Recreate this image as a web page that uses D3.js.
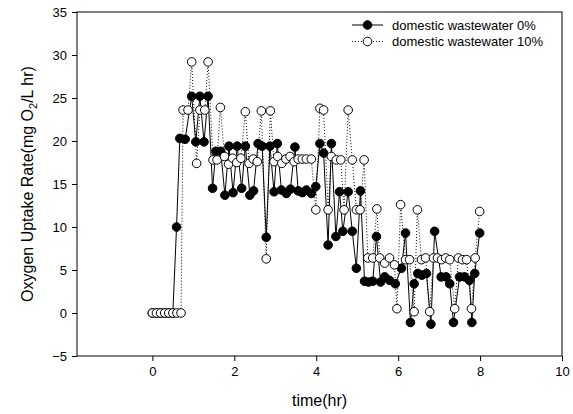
<!DOCTYPE html>
<meta charset="utf-8">
<style>
body { margin: 0; background: #fff; }
svg { display: block; font-family: Arial, "Liberation Sans", sans-serif; }
.axis path, .axis line { stroke: #000; stroke-width: 1; }
.axis text { font-size: 13px; fill: #000; }
.title { font-size: 16px; fill: #000; }
.legend text { font-size: 13px; fill: #000; }
</style>
<body>
<div id="chart"></div>
<script src="https://cdnjs.cloudflare.com/ajax/libs/d3/7.8.5/d3.min.js"></script>
<script>

var width = 573,
    height = 414,
    margin = {top: 12, right: 11, bottom: 58, left: 77};

// time (hr) and oxygen uptake rate
var time0 = [0, 0.1, 0.2, 0.3, 0.4, 0.5, 0.59, 0.67, 0.8, 0.96, 1.06, 1.16, 1.26, 1.36, 1.47, 1.55, 1.67, 1.77, 1.87, 1.97,
             2.07, 2.18, 2.27, 2.38, 2.47, 2.58, 2.68, 2.78, 2.87, 2.97, 3.05, 3.15, 3.27, 3.37, 3.48, 3.56, 3.66, 3.76, 3.88, 3.99,
             4.09, 4.18, 4.29, 4.37, 4.48, 4.57, 4.65, 4.78, 4.88, 4.98, 5.08, 5.18, 5.28, 5.38, 5.47, 5.57, 5.67, 5.79, 5.93,
             6.08, 6.18, 6.3, 6.39, 6.48, 6.58, 6.69, 6.8, 6.89, 7.05, 7.17, 7.26, 7.35, 7.5, 7.62, 7.74, 7.8, 7.87, 7.99];
var rate0 = [0, 0, 0, 0, 0, 0, 10, 20.3, 20.2, 25.2, 19.9, 25.2, 19.9, 25.2, 14.5, 18.8, 18.8, 13.7, 19.4, 14.0,
             19.4, 14.5, 19.4, 13.7, 14.2, 19.7, 19.4, 8.8, 19.4, 14.1, 19.7, 14.3, 13.9, 14.4, 19.3, 14.2, 14.0, 14.3, 13.9, 14.7,
             19.7, 18.6, 7.9, 19.7, 8.9, 14.1, 9.5, 14.1, 9.5, 5.2, 14.2, 3.7, 3.6, 3.7, 8.9, 3.6, 4.2, 3.8, 3.4,
             5.2, 9.3, -1.1, 3.4, 4.6, 4.4, 4.6, -1.3, 9.5, 4.2, 4.2, 3.4, -1.1, 4.2, 4.2, 3.8, -1.1, 4.6, 9.3];

var time10 = [0, 0.1, 0.2, 0.3, 0.4, 0.5, 0.6, 0.7, 0.75, 0.87, 0.96, 1.08, 1.16, 1.28, 1.36, 1.48, 1.58, 1.66, 1.76, 1.86,
              1.96, 2.06, 2.16, 2.27, 2.36, 2.46, 2.56, 2.66, 2.78, 2.88, 2.97, 3.06, 3.16, 3.26, 3.36, 3.46, 3.56, 3.66, 3.76, 3.88,
              3.99, 4.09, 4.18, 4.29, 4.37, 4.49, 4.6, 4.68, 4.78, 4.88, 4.98, 5.07, 5.17, 5.26, 5.38, 5.48, 5.55, 5.67, 5.79, 5.91,
              5.97, 6.06, 6.18, 6.28, 6.39, 6.47, 6.57, 6.67, 6.77, 6.86, 6.96, 7.06, 7.16, 7.26, 7.38, 7.47, 7.57, 7.67, 7.79, 7.88, 7.99];
var rate10 = [0, 0, 0, 0, 0, 0, 0, 0, 23.6, 23.6, 29.2, 17.4, 23.6, 23.6, 29.2, 17.8, 17.8, 23.9, 18.2, 17.3,
              18.0, 17.5, 18.0, 23.4, 17.4, 17.9, 17.6, 23.5, 6.3, 23.5, 17.6, 18.2, 17.4, 17.9, 18.2, 17.6, 17.9, 17.9, 17.9, 17.9,
              12.0, 23.8, 23.6, 12.0, 18.2, 17.8, 17.8, 12.0, 23.6, 17.8, 12.0, 12.0, 17.8, 6.4, 6.4, 12.1, 6.4, 5.8, 6.4, 5.6,
              0.5, 12.6, 6.2, 6.2, 0.15, 12.0, 6.2, 6.4, 0.15, 6.4, 6.4, 6.2, 6.4, 6.2, 0.5, 6.4, 6.2, 6.2, 0.5, 6.4, 11.8];

var xTicks = [0, 2, 4, 6, 8, 10];
var yTicks = [-5, 0, 5, 10, 15, 20, 25, 30, 35];
var seriesNames = ["domestic wastewater 0%", "domestic wastewater 10%"];

var series = [
  {name: seriesNames[0], pts: time0.map(function(t, i) { return [t, rate0[i]]; }), fill: "#000", dash: null},
  {name: seriesNames[1], pts: time10.map(function(t, i) { return [t, rate10[i]]; }), fill: "#fff", dash: "1,2"}
];

var svg = d3.select("#chart").append("svg")
    .attr("width", width)
    .attr("height", height);

var x = d3.scaleLinear().domain([-1.84, 10]).range([margin.left, width - margin.right]);
var y = d3.scaleLinear().domain([-5, 35]).range([height - margin.bottom, margin.top]);

// frame
svg.append("rect")
    .attr("x", margin.left)
    .attr("y", margin.top)
    .attr("width", width - margin.left - margin.right)
    .attr("height", height - margin.top - margin.bottom)
    .attr("fill", "none")
    .attr("stroke", "#000");

svg.append("g")
    .attr("class", "axis")
    .attr("transform", "translate(0," + (height - margin.bottom) + ")")
    .call(d3.axisBottom(x).tickValues(xTicks).tickSize(5).tickPadding(6).tickSizeOuter(0));

svg.append("g")
    .attr("class", "axis")
    .attr("transform", "translate(" + margin.left + ",0)")
    .call(d3.axisLeft(y).tickValues(yTicks).tickSize(5).tickPadding(5).tickSizeOuter(0));

svg.selectAll(".axis .domain").remove();

// axis titles
svg.append("text")
    .attr("class", "title")
    .attr("x", (margin.left + width - margin.right) / 2)
    .attr("y", 406)
    .attr("text-anchor", "middle")
    .text("time(hr)");

var yt = svg.append("text")
    .attr("class", "title")
    .attr("transform", "translate(33," + ((margin.top + height - margin.bottom) / 2) + ") rotate(-90)")
    .attr("text-anchor", "middle");
yt.append("tspan").text("Oxygen Uptake Rate(mg O");
yt.append("tspan").attr("font-size", "11px").attr("dy", 4).text("2");
yt.append("tspan").attr("dy", -4).text("/L hr)");

var line = d3.line()
    .x(function(d) { return x(d[0]); })
    .y(function(d) { return y(d[1]); });

series.forEach(function(s) {
  var g = svg.append("g");
  g.append("path")
      .datum(s.pts)
      .attr("d", line)
      .attr("fill", "none")
      .attr("stroke", "#000")
      .attr("stroke-width", 1)
      .attr("stroke-dasharray", s.dash);
  g.selectAll("circle")
      .data(s.pts)
      .enter().append("circle")
      .attr("cx", function(d) { return x(d[0]); })
      .attr("cy", function(d) { return y(d[1]); })
      .attr("r", 4.3)
      .attr("fill", s.fill)
      .attr("stroke", "#000")
      .attr("stroke-width", 1);
});

// legend
var legend = svg.append("g").attr("class", "legend");
series.forEach(function(s, i) {
  var ly = 25 + i * 16.5;
  legend.append("line")
      .attr("x1", 352).attr("x2", 383)
      .attr("y1", ly).attr("y2", ly)
      .attr("stroke", "#000")
      .attr("stroke-dasharray", s.dash);
  legend.append("circle")
      .attr("cx", 367.5).attr("cy", ly).attr("r", 4.3)
      .attr("fill", s.fill).attr("stroke", "#000");
  legend.append("text")
      .attr("x", 392).attr("y", ly)
      .attr("dy", "0.35em")
      .text(s.name);
});
</script>
</body>
